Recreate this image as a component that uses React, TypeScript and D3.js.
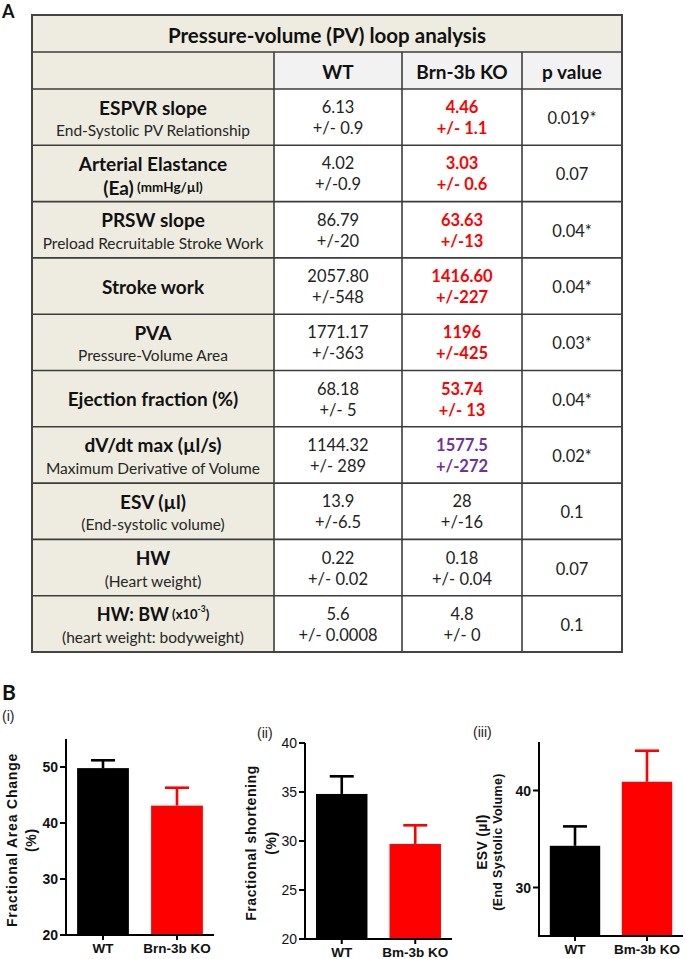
import React from 'react';
import * as d3 from 'd3';

// ---------- Table data ----------
const tableTitle = 'Pressure-volume (PV) loop analysis';
const columnHeaders = ['WT', 'Brn-3b KO', 'p value'];
const rowTitles = ['ESPVR slope', 'Arterial Elastance', 'PRSW slope', 'Stroke work', 'PVA', 'Ejection fraction (%)', 'dV/dt max (µl/s)', 'ESV (µl)', 'HW', 'HW: BW'];
const rowSubtitles = ['End-Systolic PV Relationship', '(Ea)', 'Preload Recruitable Stroke Work', '', 'Pressure-Volume Area', '', 'Maximum  Derivative of Volume', '(End-systolic volume)', '(Heart weight)', '(heart weight:  bodyweight)'];
const wtMeans = ['6.13', '4.02', '86.79', '2057.80', '1771.17', '68.18', '1144.32', '13.9', '0.22', '5.6'];
const wtErrors = ['+/- 0.9', '+/-0.9', '+/-20', '+/-548', '+/-363', '+/- 5', '+/- 289', '+/-6.5', '+/- 0.02', '+/- 0.0008'];
const koMeans = ['4.46', '3.03', '63.63', '1416.60', '1196', '53.74', '1577.5', '28', '0.18', '4.8'];
const koErrors = ['+/- 1.1', '+/- 0.6', '+/-13', '+/-227', '+/-425', '+/- 13', '+/-272', '+/-16', '+/- 0.04', '+/- 0'];
const pValues = ['0.019*', '0.07', '0.04*', '0.04*', '0.03*', '0.04*', '0.02*', '0.1', '0.07', '0.1'];
const koChange = ['down', 'down', 'down', 'down', 'down', 'down', 'up', 'none', 'none', 'none'];

// ---------- Bar chart data ----------
const catsI = ['WT', 'Brn-3b KO'];
const meansI = [49.8, 43.1];
const semI = [1.4, 3.2];
const ticksI = [20, 30, 40, 50];

const catsII = ['WT', 'Bm-3b KO'];
const meansII = [34.8, 29.7];
const semII = [1.8, 1.9];
const ticksII = [20, 25, 30, 35, 40];

const catsIII = ['WT', 'Bm-3b KO'];
const meansIII = [34.3, 40.9];
const semIII = [2.0, 3.2];
const ticksIII = [30, 40];

const barColors = ['#000000', '#ff0000'];

const TF = 'Lato, "Open Sans", sans-serif';
const AF = '"Liberation Sans", Arial, sans-serif';

function Table() {
  const colX = [32, 274, 402, 522, 622];
  const top = 15, titleBottom = 52, headBottom = 89, bottom = 652;
  const y = d3.scaleBand<string>().domain(rowTitles).range([headBottom, bottom]);
  const beige = '#eeece1';
  const line = '#3c3c3c';
  const colCenter = (i: number) => (colX[i] + colX[i + 1]) / 2;
  const koColor = (c: string) => (c === 'down' ? '#ff0000' : c === 'up' ? '#7030a0' : '#222');
  return (
    <g>
      <rect x={colX[0]} y={top} width={colX[4] - colX[0]} height={titleBottom - top} fill={beige} />
      <rect x={colX[0]} y={titleBottom} width={colX[1] - colX[0]} height={headBottom - titleBottom} fill={beige} />
      <rect x={colX[1]} y={titleBottom} width={colX[4] - colX[1]} height={headBottom - titleBottom} fill="#f2f2f2" />
      <rect x={colX[0]} y={headBottom} width={colX[1] - colX[0]} height={bottom - headBottom} fill={beige} />
      <rect x={colX[1]} y={headBottom} width={colX[4] - colX[1]} height={bottom - headBottom} fill="#ffffff" />
      <text x={(colX[0] + colX[4]) / 2} y={(top + titleBottom) / 2 + 1} textAnchor="middle" dominantBaseline="central" fontFamily={TF} fontWeight={700} fontSize={20.5} fill="#111">{tableTitle}</text>
      {columnHeaders.map((h, i) => (
        <text key={h} x={colCenter(i + 1)} y={(titleBottom + headBottom) / 2 + 1} textAnchor="middle" dominantBaseline="central" fontFamily={TF} fontWeight={700} fontSize={19} fill="#111">{h}</text>
      ))}
      {rowTitles.map((r, i) => {
        const c = (y(r) as number) + y.bandwidth() / 2;
        const sub = rowSubtitles[i];
        const two = sub !== '';
        const ly = two ? c - 10 : c;
        return (
          <g key={r}>
            <text x={colCenter(0)} y={ly} textAnchor="middle" dominantBaseline="central" fontFamily={TF} fontWeight={700} fontSize={r === 'HW: BW' ? 18 : 19} fill="#111">
              {r}
              {r === 'HW: BW' ? (
                <tspan fontSize={13}> (x10<tspan fontSize={8.5} dy={-5}>-3</tspan><tspan dy={5}>)</tspan></tspan>
              ) : null}
            </text>
            {two && r === 'Arterial Elastance' ? (
              <text x={colCenter(0)} y={c + 14} textAnchor="middle" dominantBaseline="central" fontFamily={TF} fontWeight={700} fontSize={19} fill="#111">
                {sub}<tspan fontSize={13.5}> (mmHg/µl)</tspan>
              </text>
            ) : two ? (
              <text x={colCenter(0)} y={c + 13} textAnchor="middle" dominantBaseline="central" fontFamily={TF} fontSize={15.5} fill="#262626">{sub}</text>
            ) : null}
            <text x={colCenter(1)} y={c - 10} textAnchor="middle" dominantBaseline="central" fontFamily={TF} fontSize={16.5} fill="#222">{wtMeans[i]}</text>
            <text x={colCenter(1)} y={c + 11} textAnchor="middle" dominantBaseline="central" fontFamily={TF} fontSize={16.5} fill="#222">{wtErrors[i]}</text>
            <text x={colCenter(2)} y={c - 10} textAnchor="middle" dominantBaseline="central" fontFamily={TF} fontSize={16.5} fontWeight={koChange[i] === 'none' ? 400 : 700} fill={koColor(koChange[i])}>{koMeans[i]}</text>
            <text x={colCenter(2)} y={c + 11} textAnchor="middle" dominantBaseline="central" fontFamily={TF} fontSize={16.5} fontWeight={koChange[i] === 'none' ? 400 : 700} fill={koColor(koChange[i])}>{koErrors[i]}</text>
            <text x={colCenter(3)} y={c + 1} textAnchor="middle" dominantBaseline="central" fontFamily={TF} fontSize={16.5} fill="#222">{pValues[i]}</text>
          </g>
        );
      })}
      {[titleBottom, headBottom, ...rowTitles.slice(1).map((r) => y(r) as number)].map((yy, i) => (
        <line key={'h' + i} x1={colX[0]} x2={colX[4]} y1={yy} y2={yy} stroke={line} strokeWidth={1.6} />
      ))}
      {colX.slice(1, 4).map((xx, i) => (
        <line key={'v' + i} x1={xx} x2={xx} y1={titleBottom} y2={bottom} stroke={line} strokeWidth={1.6} />
      ))}
      <rect x={colX[0]} y={top} width={colX[4] - colX[0]} height={bottom - top} fill="none" stroke="#444" strokeWidth={2} />
    </g>
  );
}

type PanelProps = {
  label: string; labelX: number; labelY: number;
  cats: string[]; means: number[]; sem: number[]; ticks: number[];
  domain: [number, number]; xRange: [number, number]; yRange: [number, number];
  yTitle: string[]; yTitleX: number[]; yTitleY: number; yTitleSize: number[]; yTitleSpacing: number;
  tickBold: boolean;
};

function BarPanel(p: PanelProps) {
  const x = d3.scaleBand<string>().domain(p.cats).range(p.xRange).paddingInner(0.3).paddingOuter(0.15);
  const y = d3.scaleLinear().domain(p.domain).range(p.yRange);
  const x0 = p.xRange[0];
  const base = y(p.domain[0]);
  const capW = 24;
  return (
    <g>
      <text x={p.labelX} y={p.labelY} dominantBaseline="central" fontFamily={AF} fontSize={14} fill="#222">{p.label}</text>
      {p.cats.map((c, i) => {
        const bx = x(c) as number;
        const cx = bx + x.bandwidth() / 2;
        const top = y(p.means[i]);
        const et = y(p.means[i] + p.sem[i]);
        return (
          <g key={c}>
            <rect x={bx} y={top} width={x.bandwidth()} height={base - top} fill={barColors[i]} />
            <line x1={cx} x2={cx} y1={top} y2={et} stroke={barColors[i]} strokeWidth={2.6} />
            <line x1={cx - capW / 2} x2={cx + capW / 2} y1={et} y2={et} stroke={barColors[i]} strokeWidth={2.6} />
            <line x1={cx} x2={cx} y1={base} y2={base + 5} stroke="#000" strokeWidth={2} />
            <text x={cx} y={base + 13} textAnchor="middle" dominantBaseline="central" fontFamily={AF} fontWeight={700} fontSize={13.5} fill="#111">{c}</text>
          </g>
        );
      })}
      <line x1={x0} x2={x0} y1={p.yRange[1]} y2={base + 1} stroke="#000" strokeWidth={2} />
      <line x1={x0 - 1} x2={p.xRange[1]} y1={base} y2={base} stroke="#000" strokeWidth={2} />
      {p.ticks.map((t) => (
        <g key={t}>
          <line x1={x0 - 6} x2={x0} y1={y(t)} y2={y(t)} stroke="#000" strokeWidth={2} />
          <text x={x0 - 8} y={y(t)} textAnchor="end" dominantBaseline="central" fontFamily={AF} fontWeight={p.tickBold ? 700 : 400} fontSize={14} fill="#111">{t}</text>
        </g>
      ))}
      {p.yTitle.map((t, i) => (
        <text key={t} transform={`translate(${p.yTitleX[i]},${p.yTitleY}) rotate(-90)`} textAnchor="middle" dominantBaseline="central" fontFamily={AF} fontWeight={700} fontSize={p.yTitleSize[i]} letterSpacing={p.yTitleSpacing} fill="#111">{t}</text>
      ))}
    </g>
  );
}

export default function App() {
  return (
    <svg width={685} height={959} style={{ position: 'absolute', left: 0, top: 0, background: '#fff' }}>
      <rect width={685} height={959} fill="#fff" />
      <text x={2} y={18} fontFamily={TF} fontWeight={700} fontSize={18} fill="#111">A</text>
      <Table />
      <text x={2} y={700} fontFamily={TF} fontWeight={700} fontSize={21} fill="#111">B</text>
      <BarPanel label="(i)" labelX={2} labelY={716}
        cats={catsI} means={meansI} sem={semI} ticks={ticksI}
        domain={[20, 55]} xRange={[66, 214]} yRange={[935, 739]}
        yTitle={['Fractional Area Change', '(%)']} yTitleX={[12, 31]} yTitleY={840} yTitleSize={[14, 14]} yTitleSpacing={0.8}
        tickBold={true} />
      <BarPanel label="(ii)" labelX={257} labelY={733}
        cats={catsII} means={meansII} sem={semII} ticks={ticksII}
        domain={[20, 40]} xRange={[305, 452]} yRange={[939, 743]}
        yTitle={['Fractional shortening', '(%)']} yTitleX={[251, 271]} yTitleY={843} yTitleSize={[14, 14]} yTitleSpacing={0.6}
        tickBold={false} />
      <BarPanel label="(iii)" labelX={473} labelY={732}
        cats={catsIII} means={meansIII} sem={semIII} ticks={ticksIII}
        domain={[25, 45]} xRange={[539, 683]} yRange={[936, 742]}
        yTitle={['ESV (µl)', '(End Systolic Volume)']} yTitleX={[482, 498]} yTitleY={842} yTitleSize={[14, 12.5]} yTitleSpacing={0.3}
        tickBold={true} />
    </svg>
  );
}
